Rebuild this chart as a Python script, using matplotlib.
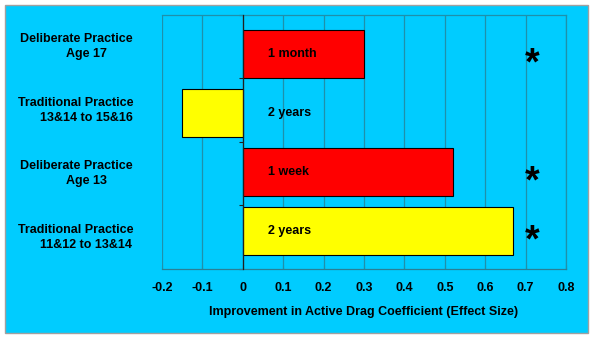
import matplotlib
matplotlib.use('Agg')
import matplotlib.pyplot as plt
from matplotlib.patches import Rectangle
import numpy as np

plt.rcParams['font.family'] = ['Liberation Sans', 'DejaVu Sans']
plt.rcParams['font.weight'] = 'bold'

# rows from top to bottom
label_top = ["Deliberate Practice", "Traditional Practice",
             "Deliberate Practice", "Traditional Practice"]
label_bottom = ["Age 17", "13&14 to 15&16", "Age 13", "11&12 to 13&14"]
effect = [0.30, -0.15, 0.52, 0.67]
duration = ["1 month", "2 years", "1 week", "2 years"]
significant = [True, False, True, True]
bar_colors = ["#FF0000", "#FFFF00", "#FF0000", "#FFFF00"]

CYAN = "#00CCFF"
GRID = "#1f90aa"
FS = 9

W, H = 594, 338
fig = plt.figure(figsize=(W / 100, H / 100), dpi=100)
fig.patch.set_facecolor("white")

# cyan panel behind everything
fig.patches.append(Rectangle((5 / W, 1 - 333 / H), 583 / W, 328 / H,
                             transform=fig.transFigure, facecolor=CYAN,
                             edgecolor="#a0a0a0", linewidth=1.0, zorder=-5))

ax = fig.add_axes([162 / W, 1 - 269 / H, 404 / W, 254 / H])
ax.set_facecolor(CYAN)

ypos = np.arange(len(effect))
ax.barh(ypos, effect, height=0.83, color=bar_colors, edgecolor="black",
        linewidth=0.8, zorder=3)

ax.set_xlim(-0.2, 0.8)
ylim = (3.644, -0.661)
ax.set_ylim(*ylim)

xt = np.round(np.arange(-0.2, 0.81, 0.1), 1)
ax.set_xticks(xt)
ax.set_xticklabels([("%g" % v) for v in xt], fontsize=FS, fontweight="bold")
for v in xt:
    ax.axvline(v, color=GRID, linewidth=0.9, zorder=1)

# y axis sits on the zero line, ticks mark row boundaries
ax.spines["left"].set_position(("data", 0))
ax.spines["left"].set_color("#202020")
ax.spines["left"].set_linewidth(0.9)
ax.spines["left"].set_zorder(4)
ax.set_yticks(np.linspace(ylim[1], ylim[0], 5))
ax.set_yticklabels([])
ax.tick_params(axis="y", length=3, width=0.8, color="#202020")
ax.tick_params(axis="x", length=3, width=0.8, color=GRID, direction="in", pad=9.5)
for s in ["top", "right", "bottom"]:
    ax.spines[s].set_color(GRID)
    ax.spines[s].set_linewidth(0.9)
ax.spines["bottom"].set_color("#2a7f95")

for i in ypos:
    ax.text(0.063, i, duration[i], ha="left", va="center",
            fontsize=FS, fontweight="bold", zorder=5)
    if significant[i]:
        ax.text(0.715, i + 0.17, "*", ha="center", va="center",
                fontsize=27, fontweight="bold", zorder=5)

# category labels, two lines each
for i in range(len(label_top)):
    yc = 1 - (i + 0.5) / 4
    dy = 7.5 / 254
    ax.text((76 - 162) / 404, yc + dy, label_top[i], transform=ax.transAxes,
            ha="center", va="center", fontsize=FS, fontweight="bold")
    ax.text((86 - 162) / 404, yc - dy, label_bottom[i], transform=ax.transAxes,
            ha="center", va="center", fontsize=FS, fontweight="bold")

ax.set_xlabel("Improvement in Active Drag Coefficient (Effect Size)",
              fontsize=FS, fontweight="bold", labelpad=8.5)

fig.savefig("out.png", dpi=100)
